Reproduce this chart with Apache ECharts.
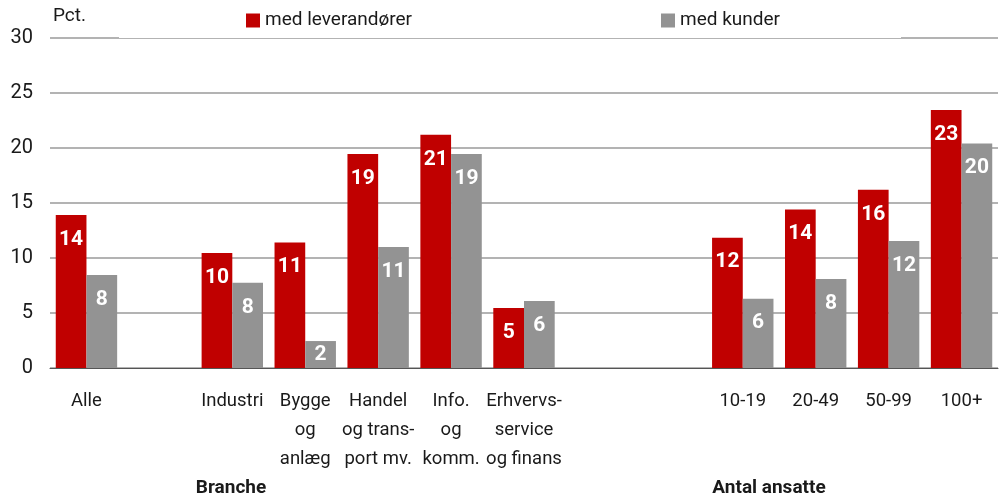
<!DOCTYPE html>
<html>
<head>
<meta charset="utf-8">
<script src="https://cdn.jsdelivr.net/npm/echarts@6/dist/echarts.min.js"></script>
<style>
  html, body { margin: 0; padding: 0; background: #fff; }
  #chart { width: 999px; height: 499px; }
</style>
</head>
<body>
<div id="chart"></div>
<script>
// kategorier (tomme pladser = mellemrum mellem grupperne)
var categories = ['Alle', '', 'Industri', 'Bygge\nog\nanlæg', 'Handel\nog trans-\nport mv.', 'Info.\nog\nkomm.',
     'Erhvervs-\nservice\nog finans', '', '', '10-19', '20-49', '50-99', '100+'];
var seriesNames = ['med leverandører', 'med kunder'];
var leverandoerer = [13.9, null, 10.45, 11.4, 19.45, 21.2, 5.45, null, null, 11.85, 14.4, 16.2, 23.45];
var kunder = [8.45, null, 7.75, 2.45, 11.0, 19.45, 6.1, null, null, 6.3, 8.1, 11.55, 20.4];
var yMin = 0, yMax = 30, yStep = 5;
var groupLabels = ['Branche', 'Antal ansatte'];

var FONT = 'Roboto, "DejaVu Sans Condensed", sans-serif';
var RED = '#c00000';
var GREY = '#939393';

var chart = echarts.init(document.getElementById('chart'));

function barData(arr) {
     var out = [];
     for (var i = 0; i < arr.length; i++) {
          if (arr[i] == null) {
               out.push(null);
          } else if (arr[i] < 4) {
               // for lav søjle - tallet midt i søjlen
               out.push({ value: arr[i], label: { position: 'inside' } });
          } else {
               out.push(arr[i]);
          }
     }
     return out;
}

function barSeries(name, arr, color) {
     return {
          name: name,
          type: 'bar',
          data: barData(arr),
          barWidth: 30.7,
          barGap: '0%',
          itemStyle: { color: color },
          label: {
               show: true,
               position: 'insideTop',
               distance: 14,
               color: '#fff',
               fontFamily: FONT,
               fontWeight: 'bold',
               fontSize: 21,
               formatter: function (p) {
                    return Math.round(p.value);
               }
          }
     };
}

var option = {
     animation: false,
     textStyle: { fontFamily: FONT },
     grid: { left: 50, right: 1, top: 38, bottom: 131 },
     legend: [{
          data: [seriesNames[0]],
          left: 246, top: 11, padding: 0,
          icon: 'rect', itemWidth: 14, itemHeight: 14,
          textStyle: { fontFamily: FONT, fontSize: 19, color: '#1a1a1a' },
          z: 200
     }, {
          data: [seriesNames[1]],
          left: 661, top: 11, padding: 0,
          icon: 'rect', itemWidth: 14, itemHeight: 14,
          textStyle: { fontFamily: FONT, fontSize: 19, color: '#1a1a1a' },
          z: 200
     }],
     xAxis: {
          type: 'category',
          data: categories,
          axisTick: { show: false },
          axisLine: { lineStyle: { color: '#555', width: 1 } },
          axisLabel: {
               interval: 0,
               margin: 19,
               color: '#1a1a1a',
               fontFamily: FONT,
               fontSize: 18.5,
               lineHeight: 29
          }
     },
     yAxis: {
          type: 'value',
          min: yMin, max: yMax, interval: yStep,
          axisLine: { show: false },
          axisTick: { show: false },
          axisLabel: { margin: 17, color: '#1a1a1a', fontFamily: FONT, fontSize: 20 },
          splitLine: { lineStyle: { color: '#b3b3b3', width: 2 } }
     },
     graphic: [{
          // hvid boks bag forklaringen
          type: 'rect',
          z: 100,
          shape: { x: 119, y: 0, width: 782, height: 38 },
          style: { fill: '#fff' }
     }, {
          type: 'text',
          z: 100,
          left: 53, top: 7,
          style: { text: 'Pct.', fill: '#1a1a1a', font: '19px ' + FONT }
     }, {
          type: 'text',
          z: 100,
          style: {
               text: groupLabels[0], x: 231, y: 498,
               textAlign: 'center', textVerticalAlign: 'bottom',
               fill: '#1a1a1a', font: 'bold 19px ' + FONT
          }
     }, {
          type: 'text',
          z: 100,
          style: {
               text: groupLabels[1], x: 769, y: 498,
               textAlign: 'center', textVerticalAlign: 'bottom',
               fill: '#1a1a1a', font: 'bold 19px ' + FONT
          }
     }],
     series: [
          barSeries(seriesNames[0], leverandoerer, RED),
          barSeries(seriesNames[1], kunder, GREY)
     ]
};

chart.setOption(option);
</script>
</body>
</html>
